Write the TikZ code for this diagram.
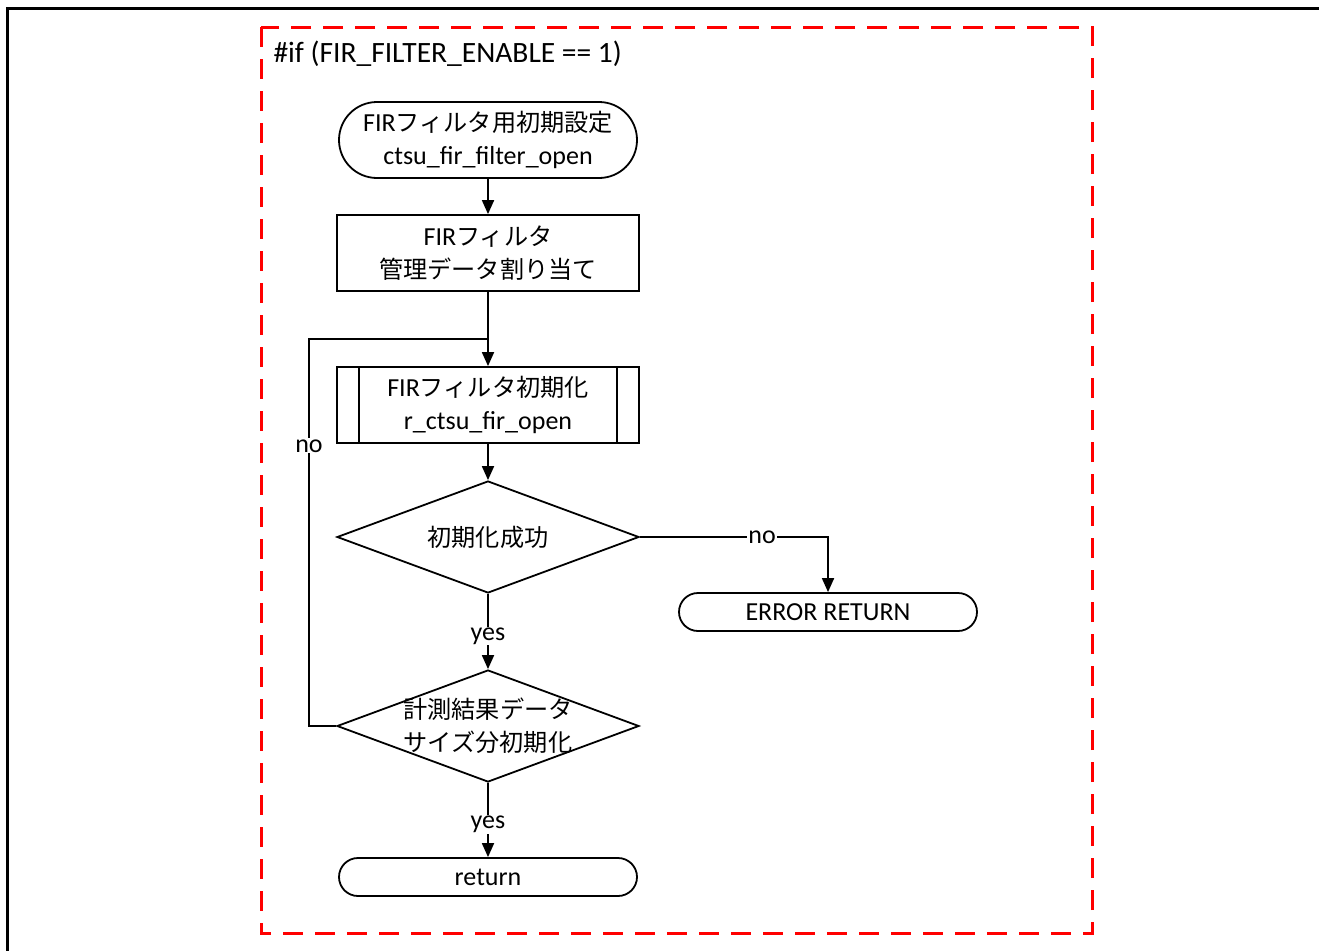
\documentclass[tikz,border=0pt]{standalone}
\usepackage{fontspec}
\setmainfont{Carlito}
\newfontfamily\jpfont[Scale=0.93]{Noto Sans CJK JP}
\newcommand{\jp}[1]{{\jpfont #1}}
\usetikzlibrary{arrows.meta,shapes}

\begin{document}
\begin{tikzpicture}[>={Triangle[length=14bp,width=12bp]},font=\fontsize{26bp}{33bp}\selectfont,
  term/.style={draw,rounded rectangle,line width=1.8bp,minimum width=302bp,minimum height=38bp,inner sep=2bp,align=center},
  proc/.style={draw,rectangle,line width=1.8bp,minimum width=302bp,minimum height=76bp,inner sep=2bp,align=center},
  decision/.style={draw,diamond,line width=1.8bp,minimum width=302bp,minimum height=112bp,inner sep=0pt},
  lbl/.style={fill=white,inner sep=1bp}]

\useasboundingbox (0bp,0bp) rectangle (1319bp,-951bp);
\draw [line width=3bp] (7bp,-951bp) -- (7bp,-8bp) -- (1319bp,-8bp);
\draw [red,line width=3bp,dash pattern=on 20bp off 12bp] (261bp,-27bp) rectangle (1092bp,-933bp);
\node (cond) at (270bp,-54bp)[anchor=west,font=\fontsize{29.5bp}{35bp}\selectfont] {\#if (FIR\_FILTER\_ENABLE == 1)};

\node (open) at (488bp,-140bp)[term,minimum height=76bp] {FIR\jp{フィルタ用初期設定}\\ctsu\_fir\_filter\_open};
\node (alloc) at (488bp,-253bp)[proc] {FIR\jp{フィルタ}\\\jp{管理データ割り当て}};
\node (init) at (488bp,-405bp)[proc] {FIR\jp{フィルタ初期化}\\r\_ctsu\_fir\_open};
\draw [line width=1.8bp] ([xshift=23bp]init.north west) -- ([xshift=23bp]init.south west);
\draw [line width=1.8bp] ([xshift=-23bp]init.north east) -- ([xshift=-23bp]init.south east);
\node (ok) at (488bp,-537bp)[decision] {};
\node (oktext) at (ok)[align=center] {\jp{初期化成功}};
\node (err) at (828bp,-612bp)[term] {ERROR RETURN};
\node (size) at (488bp,-726bp)[decision] {};
\node (sizetext) at (size)[align=center] {\jp{計測結果データ}\\\jp{サイズ分初期化}};
\node (ret) at (488bp,-877bp)[term] {return};
\coordinate (loop) at (309bp,-339bp);
\coordinate (join) at (488bp,-339bp);

\draw [->,line width=1.8bp] (open) to (alloc);
\draw [->,line width=1.8bp] (alloc) to (init);
\draw [->,line width=1.8bp] (init) to (ok);
\draw [->,line width=1.8bp] (ok.east) -| node[lbl,pos=0.325] {no} (err);
\draw [->,line width=1.8bp] (ok) to node[lbl,pos=0.56] {yes} (size);
\draw [line width=1.8bp] (size.west) -| node[lbl,pos=0.862] {no} (loop) -- (join);
\draw [->,line width=1.8bp] (size) to node[lbl,pos=0.56] {yes} (ret);
\end{tikzpicture}
\end{document}
